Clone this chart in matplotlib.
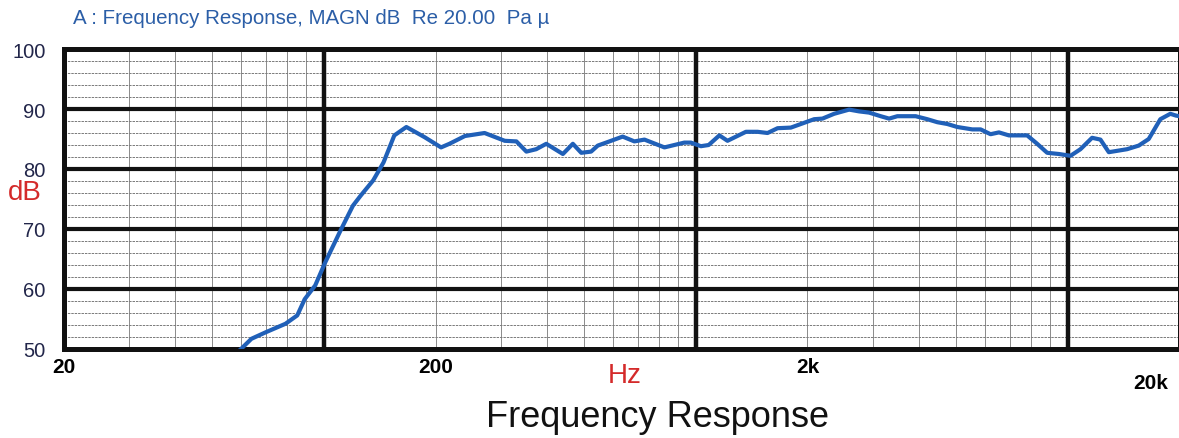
import numpy as np
import matplotlib
matplotlib.use('Agg')
import matplotlib.pyplot as plt
from matplotlib.ticker import FixedLocator, NullFormatter

# frequency response (Hz, dB)
freq = [60, 64, 70, 79, 85, 89, 95, 101, 111, 120, 126, 136, 145, 155, 167,
        187, 207, 218, 240, 271, 307, 330, 351, 373, 397, 440, 468, 493, 524,
        546, 593, 637, 685, 729, 825, 933, 972, 1034, 1085, 1159, 1219, 1366,
        1468, 1562, 1662, 1804, 1900, 2084, 2194, 2358, 2588, 2754, 2929,
        3146, 3314, 3488, 3906, 4198, 4467, 4752, 5056, 5546, 5840, 6210,
        6542, 6958, 7790, 8288, 8818, 9480, 10186, 10834, 11642, 12260,
        12912, 14456, 15540, 16532, 17764, 18896, 19572, 20000]
spl = [50.0, 51.7, 52.8, 54.2, 55.6, 58.3, 60.6, 64.4, 69.7, 73.9, 75.6, 78.1,
       81.1, 85.6, 87.0, 85.3, 83.6, 84.2, 85.5, 86.0, 84.7, 84.6, 82.9, 83.3,
       84.2, 82.5, 84.2, 82.7, 82.9, 83.9, 84.7, 85.4, 84.6, 84.9, 83.6, 84.4,
       84.4, 83.8, 84.0, 85.6, 84.7, 86.2, 86.2, 86.0, 86.8, 86.9, 87.4, 88.3,
       88.4, 89.2, 89.9, 89.6, 89.4, 88.8, 88.4, 88.8, 88.8, 88.3, 87.8, 87.5,
       87.0, 86.6, 86.6, 85.8, 86.1, 85.6, 85.6, 84.2, 82.7, 82.5, 82.2, 83.3,
       85.2, 84.9, 82.8, 83.3, 83.9, 85.0, 88.3, 89.2, 88.9, 88.8]

xticks = [20, 200, 2000]
xticklabels = ['20', '200', '2k']
yticks = [50, 60, 70, 80, 90, 100]

W, H = 1179, 439
fig = plt.figure(figsize=(W / 100, H / 100), dpi=100)
ax = fig.add_axes([63.5 / W, 1 - 350 / H, (1179.5 - 63.5) / W, 300 / H])

ax.set_xscale('log')
ax.set_xlim(20, 20000)
ax.set_ylim(50, 100)

# thin grid
minor_x = [m * 10 ** d for d in range(1, 4) for m in range(2, 10)]
minor_x = [v for v in minor_x if 20 < v < 20000]
for v in minor_x:
    ax.axvline(v, color='#8a8a8a', lw=0.7, zorder=1)
for v in range(52, 100, 2):
    if v % 10:
        ax.axhline(v, color='#7a7a7a', lw=0.7, ls=(0, (2.5, 1)), zorder=1)

# heavy grid
for v in [100, 1000, 10000]:
    ax.axvline(v, color='#111111', lw=3.2, zorder=2)
for v in [60, 70, 80, 90]:
    ax.axhline(v, color='#111111', lw=3.0, zorder=2)
for s in ax.spines.values():
    s.set_linewidth(3.6)
    s.set_color('#111111')

ax.plot(freq, spl, color='#2060b8', lw=3.0, zorder=3, solid_joinstyle='round')

ax.xaxis.set_major_locator(FixedLocator(xticks))
ax.xaxis.set_minor_formatter(NullFormatter())
ax.set_xticks(xticks, xticklabels)
ax.set_yticks(yticks)
ax.tick_params(length=0, which='both')
ax.tick_params(axis='x', pad=6)
ax.tick_params(axis='y', pad=13)
for t in ax.get_xticklabels():
    t.set_fontfamily('Liberation Sans')
    t.set_fontweight('bold')
    t.set_fontsize(15)
for t in ax.get_yticklabels():
    t.set_fontfamily('Liberation Sans')
    t.set_fontsize(14.5)
    t.set_color('#22264a')

ax.annotate('20k', xy=(1, 0), xycoords='axes fraction', xytext=(-8, -17),
            textcoords='offset points', ha='right', va='top', fontsize=15,
            fontweight='bold', family='Liberation Sans')

fig.text(73 / W, 1 - 18 / H, 'A : Frequency Response, MAGN dB  Re 20.00  Pa \u00b5',
         color='#2b5ea7', fontsize=14.8, family='Liberation Sans', va='center')
fig.text(25 / W, 1 - 193 / H, 'dB', color='#d42a2a', fontsize=20,
         family='Liberation Sans', ha='center', va='center')
fig.text(625 / W, 1 - 376 / H, 'Hz', color='#d42a2a', fontsize=20,
         family='Liberation Sans', ha='center', va='center')
fig.text(657 / W, 1 - 418 / H, 'Frequency Response', color='#111111', fontsize=26,
         family='Liberation Sans', ha='center', va='center')

fig.savefig('out.png', dpi=100)
